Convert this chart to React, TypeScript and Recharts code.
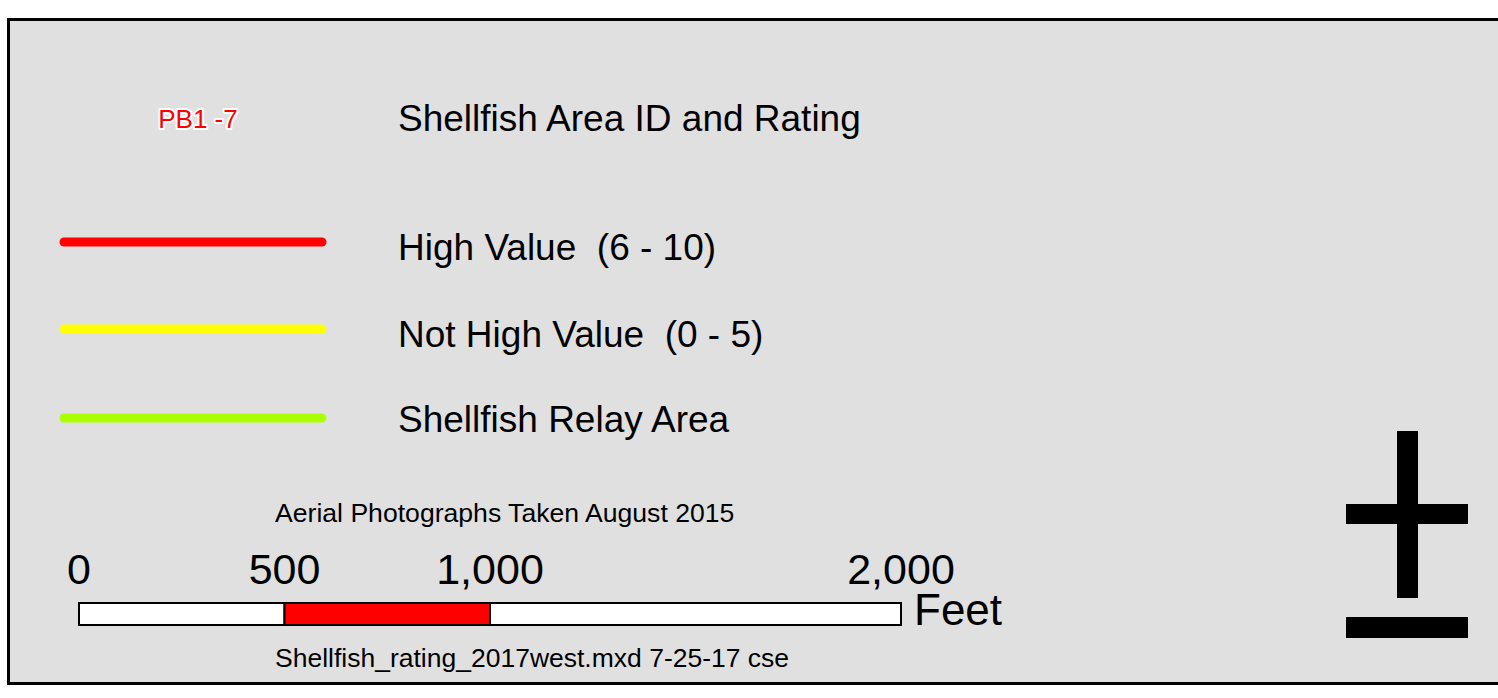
import React from "react";
import { ComposedChart, Bar, XAxis, YAxis } from "recharts";

// scale bar, in feet
const SCALE_ROW = ["scale"];
const SCALE_SEGMENTS = [
  { key: "seg1", feet: 500, fill: "#ffffff" },
  { key: "seg2", feet: 500, fill: "#ff0000" },
  { key: "seg3", feet: 1000, fill: "#ffffff" },
];
const SCALE_TICKS = [0, 500, 1000, 2000];
const SCALE_UNIT = "Feet";

// legend entries
const LEGEND_TITLE = "Shellfish Area ID and Rating";
const SAMPLE_LABEL = "PB1 -7";
const LEGEND_LABELS = ["High Value  (6 - 10)", "Not High Value  (0 - 5)", "Shellfish Relay Area"];
const LEGEND_COLORS = ["#ff0000", "#ffff00", "#aaff00"];

const CAPTION_TOP = "Aerial Photographs Taken August 2015";
const CAPTION_BOTTOM = "Shellfish_rating_2017west.mxd 7-25-17 cse";

const W = 1498;
const H = 698;
const FONT = "'Liberation Sans', Arial, sans-serif";

const scaleData = SCALE_ROW.map((name) => {
  const row: Record<string, string | number> = { name };
  SCALE_SEGMENTS.forEach((s) => (row[s.key] = s.feet));
  return row;
});
const scaleMax = SCALE_SEGMENTS.reduce((a, s) => a + s.feet, 0);

// layout of the legend rows (px)
const lineY = [242, 329, 418];
const labelY = [260, 347, 432];

export default function App() {
  return (
    <div style={{ position: "absolute", left: 0, top: 0, width: W, height: H, background: "#fff", overflow: "hidden", fontFamily: FONT }}>
      <div
        style={{
          position: "absolute",
          left: 7,
          top: 18,
          width: 1500,
          height: 667,
          boxSizing: "border-box",
          border: "3px solid #000",
          background: "#e0e0e0",
        }}
      />
      <svg width={W} height={H} style={{ position: "absolute", left: 0, top: 0 }}>
        <text
          x={198}
          y={128}
          fontSize={26}
          textAnchor="middle"
          fill="#ff0000"
          stroke="#ffffff"
          strokeWidth={4}
          strokeLinejoin="round"
          paintOrder="stroke"
        >
          {SAMPLE_LABEL}
        </text>
        <text x={398} y={131} fontSize={37} fill="#000">
          {LEGEND_TITLE}
        </text>
        {LEGEND_LABELS.map((label, i) => (
          <g key={label}>
            <line x1={64} x2={322} y1={lineY[i]} y2={lineY[i]} stroke={LEGEND_COLORS[i]} strokeWidth={9} strokeLinecap="round" />
            <text x={398} y={labelY[i]} fontSize={37} fill="#000" style={{ whiteSpace: "pre" }}>
              {label}
            </text>
          </g>
        ))}
        <text x={275} y={522} fontSize={26.6} fill="#000">
          {CAPTION_TOP}
        </text>
        <text x={275} y={667} fontSize={26.5} fill="#000">
          {CAPTION_BOTTOM}
        </text>
        <text x={914} y={625} fontSize={44} fill="#000">
          {SCALE_UNIT}
        </text>
        {/* north arrow */}
        <rect x={1397} y={431} width={21} height={167} fill="#000" />
        <rect x={1346} y={504} width={122} height={20} fill="#000" />
        <rect x={1346} y={617} width={122} height={21} fill="#000" />
      </svg>
      <div style={{ position: "absolute", left: 0, top: 0 }}>
        <ComposedChart
          width={W}
          height={H}
          data={scaleData}
          layout="vertical"
          barCategoryGap={0}
          margin={{ top: 573, right: 597, bottom: 73, left: 79 }}
        >
          <XAxis
            type="number"
            orientation="top"
            domain={[0, scaleMax]}
            ticks={SCALE_TICKS}
            tickFormatter={(v: number) => v.toLocaleString("en-US")}
            axisLine={false}
            tickLine={false}
            tickSize={0}
            tickMargin={19}
            height={30}
            interval={0}
            tick={{ fontSize: 43, fill: "#000" }}
          />
          <YAxis type="category" dataKey="name" hide />
          {SCALE_SEGMENTS.map((s) => (
            <Bar
              key={s.key}
              dataKey={s.key}
              stackId="scale"
              fill={s.fill}
              stroke="#000"
              strokeWidth={2}
              isAnimationActive={false}
            />
          ))}
        </ComposedChart>
      </div>
    </div>
  );
}
